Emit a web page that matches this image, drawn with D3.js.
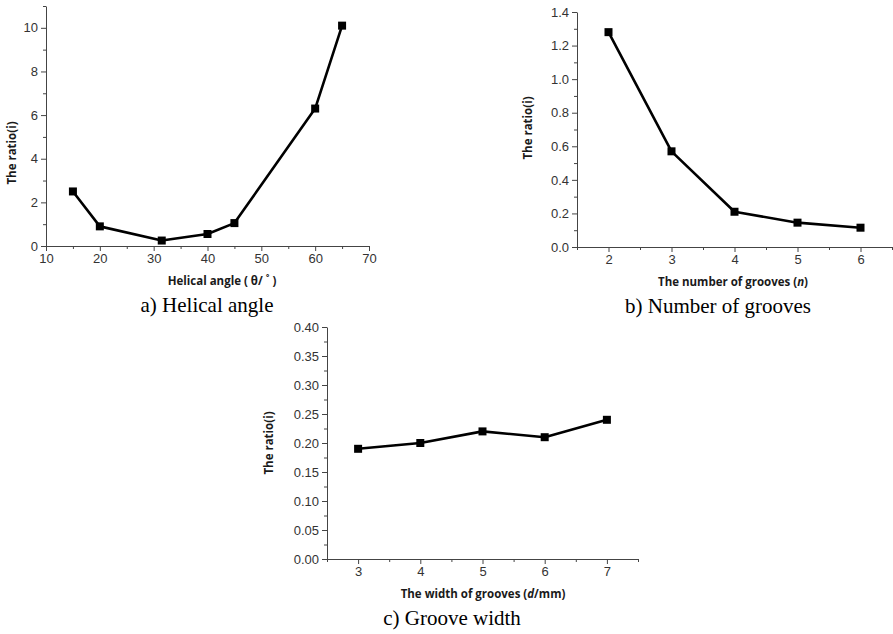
<!DOCTYPE html>
<html>
<head>
<meta charset="utf-8">
<script src="https://cdn.jsdelivr.net/npm/d3@7"></script>
<style>
  body { margin: 0; background: #fff; }
  .tick text { font-family: "Liberation Sans", Arial, sans-serif; font-size: 13px; fill: #333; }
  .domain, .tick line { stroke: #444; }
  .title { font-family: "Open Sans", "Liberation Sans", sans-serif; font-weight: bold; font-size: 11.5px; fill: #1a1a1a; }
  .caption { font-family: "Liberation Serif", "Times New Roman", serif; font-size: 21px; fill: #000; }
</style>
</head>
<body>
<div id="chart-area"></div>
<script>
// panel a - helical angle
var angleA = [15, 20, 31.5, 40, 45, 60, 65];
var ratioA = [2.5, 0.9, 0.25, 0.55, 1.05, 6.3, 10.1];
var xTicksA = [10, 20, 30, 40, 50, 60, 70];
var yTicksA = [0, 2, 4, 6, 8, 10];

// panel b - number of grooves
var countB = [2, 3, 4, 5, 6];
var ratioB = [1.28, 0.57, 0.21, 0.145, 0.115];
var xTicksB = [2, 3, 4, 5, 6];
var yTicksB = [0.0, 0.2, 0.4, 0.6, 0.8, 1.0, 1.2, 1.4];

// panel c - groove width
var widthC = [3, 4, 5, 6, 7];
var ratioC = [0.19, 0.20, 0.22, 0.21, 0.24];
var xTicksC = [3, 4, 5, 6, 7];
var yTicksC = [0.00, 0.05, 0.10, 0.15, 0.20, 0.25, 0.30, 0.35, 0.40];

var svg = d3.select("#chart-area")
    .append("svg")
        .attr("width", 893)
        .attr("height", 634);

function range(a, b, step) {
    var out = [];
    for (var v = a; v <= b + step / 1000; v += step) out.push(+v.toFixed(6));
    return out;
}

function panel(p) {
    var g = svg.append("g")
        .attr("transform", "translate(" + p.left + "," + p.top + ")");

    var x = d3.scaleLinear().domain(p.xDomain).range([0, p.width]);
    var y = d3.scaleLinear().domain(p.yDomain).range([p.height, 0]);

    // minor ticks
    g.append("g")
        .attr("transform", "translate(0," + p.height + ")")
        .call(d3.axisBottom(x).tickValues(p.xMinor).tickSize(3).tickFormat("").tickSizeOuter(0))
        .select(".domain").remove();
    g.append("g")
        .call(d3.axisLeft(y).tickValues(p.yMinor).tickSize(3).tickFormat("").tickSizeOuter(0))
        .select(".domain").remove();

    // X Axis
    g.append("g")
        .attr("transform", "translate(0," + p.height + ")")
        .call(d3.axisBottom(x).tickValues(p.xTicks).tickSize(5).tickPadding(3).tickSizeOuter(0)
            .tickFormat(p.xFormat));

    // Y Axis
    g.append("g")
        .call(d3.axisLeft(y).tickValues(p.yTicks).tickSize(5).tickPadding(3).tickSizeOuter(0)
            .tickFormat(p.yFormat));

    // line + markers
    var pts = p.xs.map(function(d, i) { return [d, p.ys[i]]; });
    g.append("path")
        .datum(pts)
        .attr("fill", "none")
        .attr("stroke", "#000")
        .attr("stroke-width", 2.6)
        .attr("stroke-linejoin", "round")
        .attr("d", d3.line()
            .x(function(d) { return x(d[0]); })
            .y(function(d) { return y(d[1]); }));

    g.selectAll("rect.pt")
        .data(pts)
        .enter().append("rect")
            .attr("class", "pt")
            .attr("x", function(d) { return x(d[0]) - 4; })
            .attr("y", function(d) { return y(d[1]) - 4; })
            .attr("width", 8)
            .attr("height", 8)
            .attr("fill", "#000");

    // X Label
    var xl = g.append("text")
        .attr("class", "title")
        .attr("x", p.xTitleX)
        .attr("y", p.height + 39)
        .attr("text-anchor", "middle");
    p.xTitle.forEach(function(part) {
        xl.append("tspan")
            .attr("font-style", part.italic ? "italic" : null)
            .text(part.t);
    });

    // Y Label
    g.append("text")
        .attr("class", "title")
        .attr("transform", "rotate(-90)")
        .attr("x", -p.yTitleY)
        .attr("y", p.yTitleX)
        .attr("text-anchor", "middle")
        .text("The ratio(i)");

    // caption
    g.append("text")
        .attr("class", "caption")
        .attr("x", p.capX)
        .attr("y", p.height + 66)
        .attr("text-anchor", "middle")
        .text(p.caption);
}

panel({
    left: 46, top: 6, width: 323, height: 240,
    xDomain: [10, 70], yDomain: [0, 11],
    xTicks: xTicksA, yTicks: yTicksA,
    xMinor: range(15, 65, 10), yMinor: range(1, 11, 2),
    xFormat: d3.format("d"), yFormat: d3.format("d"),
    xs: angleA, ys: ratioA,
    xTitle: [{ t: "Helical angle (  θ/ ˚  )" }], xTitleX: 176,
    yTitleX: -30, yTitleY: 147,
    caption: "a) Helical angle", capX: 161
});

panel({
    left: 577, top: 12, width: 315, height: 235,
    xDomain: [1.5, 6.5], yDomain: [0, 1.4],
    xTicks: xTicksB, yTicks: yTicksB,
    xMinor: range(1.5, 6.5, 1), yMinor: range(0.1, 1.3, 0.2),
    xFormat: d3.format("d"), yFormat: d3.format(".1f"),
    xs: countB, ys: ratioB,
    xTitle: [{ t: "The number of grooves (" }, { t: "n", italic: true }, { t: ")" }], xTitleX: 156,
    yTitleX: -45, yTitleY: 116,
    caption: "b) Number of grooves", capX: 141
});

panel({
    left: 327, top: 327, width: 311, height: 232,
    xDomain: [2.5, 7.5], yDomain: [0, 0.40],
    xTicks: xTicksC, yTicks: yTicksC,
    xMinor: range(2.5, 7.5, 1), yMinor: range(0.025, 0.375, 0.05),
    xFormat: d3.format("d"), yFormat: d3.format(".2f"),
    xs: widthC, ys: ratioC,
    xTitle: [{ t: "The width of grooves (" }, { t: "d", italic: true }, { t: "/mm)" }], xTitleX: 156,
    yTitleX: -54, yTitleY: 116,
    caption: "c) Groove width", capX: 125
});
</script>
</body>
</html>
